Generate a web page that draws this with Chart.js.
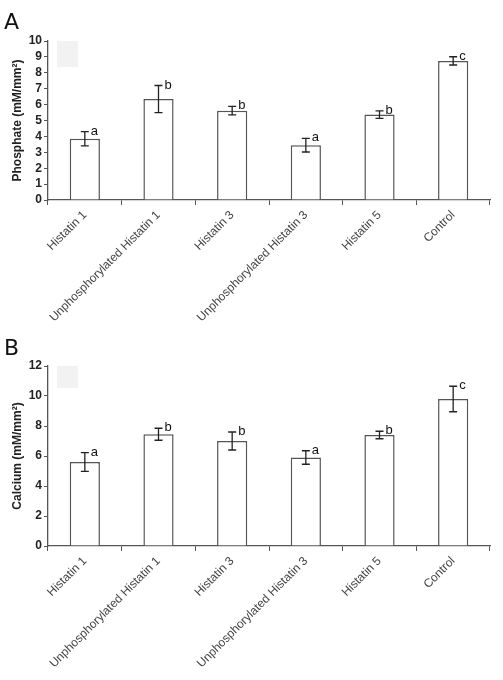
<!DOCTYPE html>
<html><head><meta charset="utf-8">
<script src="https://cdn.jsdelivr.net/npm/chart.js@4/dist/chart.umd.min.js"></script>
<style>
html,body{margin:0;padding:0;background:#fff;}
#wrap{width:503px;height:680px;position:relative;}
.c{position:absolute;left:0;}
</style></head>
<body><div id="wrap">
<div class="c" style="top:0;width:503px;height:335px"><canvas id="ca"></canvas></div>
<div class="c" style="top:335px;width:503px;height:345px"><canvas id="cb"></canvas></div>
</div>
<script>
const categories = ['Histatin 1','Unphosphorylated Histatin 1','Histatin 3','Unphosphorylated Histatin 3','Histatin 5','Control'];
const phosphate = [3.85, 6.35, 5.62, 3.45, 5.37, 8.75];
const phosphateErr = [0.45, 0.85, 0.27, 0.43, 0.24, 0.26];
const phosphateLetters = ['a','b','b','a','b','c'];
const calcium = [5.6, 7.45, 7.0, 5.9, 7.4, 9.8];
const calciumErr = [0.63, 0.4, 0.6, 0.45, 0.25, 0.85];
const calciumLetters = ['a','b','b','a','b','c'];

const annot = {
  id:'annot',
  afterDatasetsDraw(chart, args, opts){
    const ctx = chart.ctx, x = chart.scales.x, y = chart.scales.y, ca = chart.chartArea;
    ctx.save();
    ctx.fillStyle = '#f2f2f2';
    ctx.fillRect(ca.left+9, ca.top, 21, opts.boxH);
    const vals = chart.data.datasets[0].data;
    ctx.strokeStyle = '#222'; ctx.lineWidth = 1.3;
    vals.forEach((v,i)=>{
      const cx = x.getPixelForValue(i);
      const t = y.getPixelForValue(v+opts.err[i]);
      const b = y.getPixelForValue(v-opts.err[i]);
      ctx.beginPath();
      ctx.moveTo(cx,t); ctx.lineTo(cx,b);
      ctx.moveTo(cx-4,t); ctx.lineTo(cx+4,t);
      ctx.moveTo(cx-4,b); ctx.lineTo(cx+4,b);
      ctx.stroke();
      ctx.fillStyle = '#111';
      ctx.font = '13px "Liberation Sans", Arial, sans-serif';
      ctx.textAlign = 'left'; ctx.textBaseline = 'alphabetic';
      ctx.fillText(opts.letters[i], cx+6, t+3);
    });
    ctx.fillStyle = '#111';
    ctx.font = '22px "DejaVu Sans", sans-serif';
    ctx.textBaseline = 'alphabetic';
    ctx.fillText(opts.panel, 4, opts.panelY);
    ctx.restore();
  }
};

function make(id, data, err, letters, max, step, title, panel, panelY, padTop, xH, boxH){
  return new Chart(document.getElementById(id), {
    type:'bar',
    data:{labels:categories, datasets:[{data:data, backgroundColor:'#fff', borderColor:'#555', borderWidth:1.5,
      barPercentage:0.41, categoryPercentage:1}]},
    options:{
      responsive:true, maintainAspectRatio:false, animation:false,
      layout:{padding:{left:10, right:13, top:padTop, bottom:0}},
      plugins:{legend:{display:false}, tooltip:{enabled:false},
        annot:{err:err, letters:letters, panel:panel, panelY:panelY, boxH:boxH}},
      scales:{
        x:{
          grid:{drawOnChartArea:false, tickLength:5, color:'#555', offset:true},
          border:{color:'#555', width:1.3},
          ticks:{maxRotation:45, minRotation:45, autoSkip:false, color:'#444', padding:3,
            font:{family:'"Liberation Sans", Arial, sans-serif', size:12}},
          afterFit(s){ s.height = xH; }
        },
        y:{
          min:0, max:max,
          grid:{drawOnChartArea:false, tickLength:4, color:'#555'},
          border:{color:'#555', width:1.3},
          ticks:{stepSize:step, autoSkip:false, color:'#222', padding:2,
            font:{family:'"Liberation Sans", Arial, sans-serif', size:12, weight:'bold'}},
          title:{display:true, text:title, color:'#222', padding:{top:0,bottom:1},
            font:{family:'"Liberation Sans", Arial, sans-serif', size:12, weight:'bold'}},
          afterFit(s){ s.width = 38; }
        }
      }
    },
    plugins:[annot]
  });
}
make('ca', phosphate, phosphateErr, phosphateLetters, 10, 1, 'Phosphate (mM/mm²)', 'A', 29, 41, 135, 26);
make('cb', calcium, calciumErr, calciumLetters, 12, 2, 'Calcium (mM/mm²)', 'B', 20, 31, 134, 22);
</script>
</body></html>
